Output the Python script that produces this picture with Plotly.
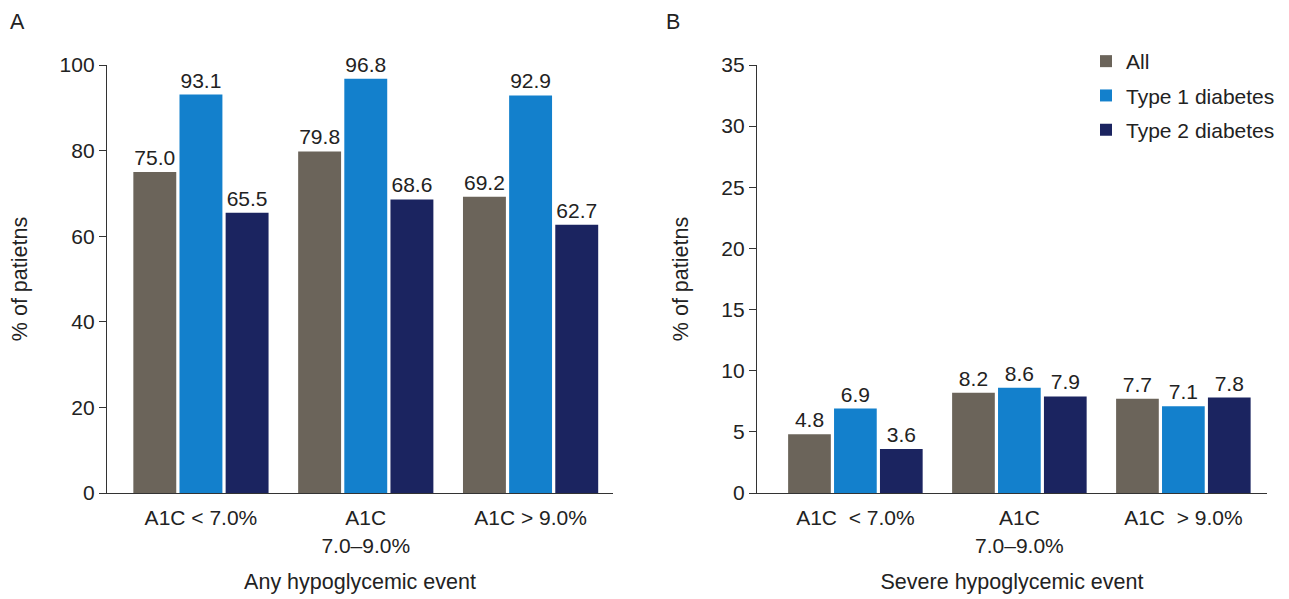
import plotly.graph_objects as go

categories = ["A1C < 7.0%", "A1C<br>7.0–9.0%", "A1C > 9.0%"]
categories_b = ["A1C  < 7.0%", "A1C<br>7.0–9.0%", "A1C  > 9.0%"]
series_names = ["All", "Type 1 diabetes", "Type 2 diabetes"]
any_all = [75.0, 79.8, 69.2]
any_t1 = [93.1, 96.8, 92.9]
any_t2 = [65.5, 68.6, 62.7]
sev_all = [4.8, 8.2, 7.7]
sev_t1 = [6.9, 8.6, 7.1]
sev_t2 = [3.6, 7.9, 7.8]
colors = ["#6b645a", "#1380cc", "#1b2460"]

FONT = "Liberation Sans, Arial, sans-serif"
TXT = "#222222"
FS = 21
W, H = 1289, 599
OFF = 8  # page body margin offset


def px_x(p):
    return (p - OFF) / W


def px_y(p):
    return 1 - (p - OFF) / H


fig = go.Figure()
for name, vals, col in zip(series_names, [any_all, any_t1, any_t2], colors):
    fig.add_trace(go.Bar(x=categories, y=vals, name=name, marker_color=col,
                         marker_line_width=0, text=[f"{v:.1f}" for v in vals],
                         textposition="outside", cliponaxis=False,
                         textfont=dict(size=21, color=TXT, family=FONT),
                         xaxis="x", yaxis="y", showlegend=False, legendgroup=name))
for name, vals, col in zip(series_names, [sev_all, sev_t1, sev_t2], colors):
    fig.add_trace(go.Bar(x=categories_b, y=vals, name=name, marker_color=col,
                         marker_line_width=0, text=[f"{v:.1f}" for v in vals],
                         textposition="outside", cliponaxis=False,
                         textfont=dict(size=21, color=TXT, family=FONT),
                         xaxis="x2", yaxis="y2", showlegend=True, legendgroup=name))

ydom = [px_y(493), px_y(65)]
axis_common = dict(showgrid=False, zeroline=False, showline=True, linecolor="#333333",
                   linewidth=1.3, automargin=False,
                   tickfont=dict(size=FS, color=TXT, family=FONT))
tfont = dict(size=21.5, color=TXT, family=FONT)

fig.update_layout(
    width=W, height=H,
    margin=dict(l=0, r=0, t=0, b=0, autoexpand=False),
    paper_bgcolor="white", plot_bgcolor="white",
    font=dict(family=FONT, color=TXT, size=FS),
    barmode="group", bargap=0.16, bargroupgap=0.07,
    xaxis=dict(domain=[px_x(107), px_x(613)], range=[-0.57, 2.5], ticks="",
               ticklabelstandoff=6,
               title=dict(text="Any hypoglycemic event", standoff=18, font=tfont),
               anchor="y", **axis_common),
    yaxis=dict(domain=ydom, range=[0, 100], tickvals=[0, 20, 40, 60, 80, 100],
               ticks="outside", ticklen=7, tickcolor="#333333",
               title=dict(text="% of patietns", standoff=26, font=tfont),
               anchor="x", **axis_common),
    xaxis2=dict(domain=[px_x(757), px_x(1267)], range=[-0.6, 2.51], ticks="",
                ticklabelstandoff=6,
                title=dict(text="Severe hypoglycemic event", standoff=18, font=tfont),
                anchor="y2", **axis_common),
    yaxis2=dict(domain=ydom, range=[0, 35], tickvals=[0, 5, 10, 15, 20, 25, 30, 35],
                ticks="outside", ticklen=7, tickcolor="#333333",
                title=dict(text="% of patietns", standoff=26, font=tfont),
                anchor="x2", **axis_common),
    legend=dict(x=px_x(1078 + OFF), y=px_y(41), xanchor="left", yanchor="top",
                font=dict(size=21, color=TXT, family=FONT), tracegroupgap=4,
                traceorder="grouped", bgcolor="rgba(0,0,0,0)", itemwidth=30),
    annotations=[
        dict(text="A", x=0, y=1, xref="paper", yref="paper",
             xanchor="left", yanchor="top", showarrow=False, font=tfont),
        dict(text="B", x=px_x(664), y=1, xref="paper", yref="paper",
             xanchor="left", yanchor="top", showarrow=False, font=tfont),
    ],
)

fig.write_html("out.html")
